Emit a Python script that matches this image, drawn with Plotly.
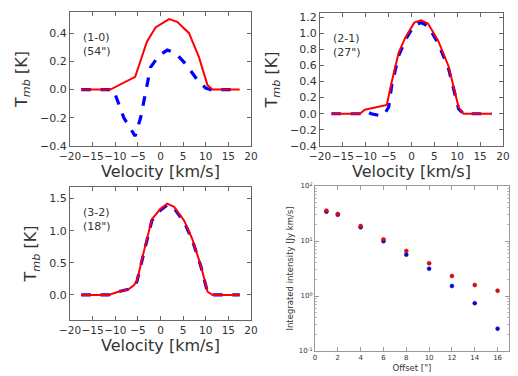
import plotly.graph_objects as go

# spectra: velocity [km/s] and T_mb [K]
v_10_red = [-17.5, -11.1, -5.6, -4.1, -3.0, -1.1, 1.9, 3.7, 6.3, 8.5, 10.4, 11.5, 17.5]
t_10_red = [0, 0, 0.09, 0.23, 0.34, 0.44, 0.50, 0.48, 0.40, 0.23, 0.03, 0, 0]
v_10_blue = [-17.5, -11.1, -10.4, -8.1, -5.6, -4.4, -3.3, -2.2, -0.4, 1.5, 3.3, 5.6, 8.1, 10.0, 11.1, 17.5]
t_10_blue = [0, 0, 0, -0.2, -0.33, -0.2, -0.03, 0.157, 0.24, 0.28, 0.26, 0.18, 0.07, 0.01, 0, 0]

v_21_red = [-17.5, -11.3, -10.2, -5.4, -4.3, -2.8, -1.3, 0.6, 2.1, 3.6, 5.8, 8.1, 10.3, 11.4, 17.5]
t_21_red = [0, 0, 0.05, 0.11, 0.40, 0.76, 0.95, 1.13, 1.16, 1.12, 0.91, 0.59, 0.08, 0, 0]
v_21_blue = [-17.5, -11.3, -9.9, -8.8, -7.2, -6.1, -5.0, -4.3, -2.8, -1.3, 0.6, 2.1, 3.6, 5.8, 8.1, 10.3, 11.4, 17.5]
t_21_blue = [0, 0, 0.03, 0.0, -0.02, -0.02, 0.08, 0.36, 0.72, 0.92, 1.10, 1.13, 1.09, 0.88, 0.56, 0.06, 0, 0]

v_32 = [-17.5, -11.5, -9.3, -7.0, -5.9, -5.2, -3.7, -1.9, 0, 1.5, 3.0, 5.2, 7.0, 8.9, 10.4, 11.5, 17.5]
t_32_red = [0, 0, 0.05, 0.09, 0.15, 0.22, 0.67, 1.18, 1.34, 1.42, 1.37, 1.16, 0.875, 0.46, 0.05, 0, 0]
t_32_blue = [0, 0, 0.05, 0.09, 0.14, 0.21, 0.65, 1.16, 1.32, 1.40, 1.35, 1.14, 0.86, 0.45, 0.04, 0, 0]

# integrated intensity vs offset
offset = [1, 2, 4, 6, 8, 10, 12, 14, 16]
intens_red = [35.6, 31.0, 18.7, 10.7, 6.6, 3.93, 2.31, 1.58, 1.25]
intens_blue = [34.1, 30.1, 17.7, 9.9, 5.65, 3.14, 1.52, 0.74, 0.255]

labels = ["(1-0)<br>(54\")", "(2-1)<br>(27\")", "(3-2)<br>(18\")"]
log_tickvals = [0.1, 1, 10, 100]
log_ticktext = ["10<sup>-1</sup>", "10<sup>0</sup>", "10<sup>1</sup>", "10<sup>2</sup>"]

W, H = 518, 376
TXT = "#333333"
FONT = "DejaVu Sans"


def px_x(p):
    return p / W


def px_y(p):
    return 1 - p / H


fig = go.Figure()

spectra = [
    (v_10_blue, t_10_blue, v_10_red, t_10_red),
    (v_21_blue, t_21_blue, v_21_red, t_21_red),
    (v_32, t_32_blue, v_32, t_32_red),
]
for i, (vb, tb, vr, tr) in enumerate(spectra):
    ax = "" if i == 0 else str(i + 1)
    fig.add_trace(go.Scatter(x=vb, y=tb, mode="lines", xaxis="x" + ax, yaxis="y" + ax,
                             line=dict(color="#0000ff", width=3.2, dash="dash"), showlegend=False))
    fig.add_trace(go.Scatter(x=vr, y=tr, mode="lines", xaxis="x" + ax, yaxis="y" + ax,
                             line=dict(color="#ff0000", width=2), showlegend=False))

fig.add_trace(go.Scatter(x=offset, y=intens_blue, mode="markers", xaxis="x4", yaxis="y4",
                         marker=dict(color="#0000ff", size=4, line=dict(color="#222266", width=0.5)),
                         showlegend=False))
fig.add_trace(go.Scatter(x=offset, y=intens_red, mode="markers", xaxis="x4", yaxis="y4",
                         marker=dict(color="#ff0000", size=4, line=dict(color="#662222", width=0.5)),
                         showlegend=False))

box = dict(showline=True, linecolor="#666666", linewidth=1, mirror="ticks", ticks="inside",
           ticklen=4, tickcolor="#666666", showgrid=False, zeroline=False, automargin=False)

# panel boxes in pixels: (x0, x1, ytop, ybottom)
boxes = [(70, 251, 12, 146), (320, 503, 13, 146), (70, 251, 187, 320)]
yranges = [[-0.4, 0.55], [-0.4, 1.25], [-0.39, 1.68]]
ydticks = [0.2, 0.2, 0.5]

layout = dict(width=W, height=H, margin=dict(l=0, r=0, t=0, b=0, autoexpand=False),
              paper_bgcolor="white", plot_bgcolor="white",
              font=dict(family=FONT, color=TXT))

for i, (x0, x1, yt, yb) in enumerate(boxes):
    ax = "" if i == 0 else str(i + 1)
    layout["xaxis" + ax] = dict(box, domain=[px_x(x0), px_x(x1)], range=[-20, 20], dtick=5,
                                anchor="y" + ax, tickfont=dict(size=10.5), tickangle=0,
                                title=dict(text="Velocity [km/s]", font=dict(size=16), standoff=4))
    layout["yaxis" + ax] = dict(box, domain=[px_y(yb), px_y(yt)], range=yranges[i], dtick=ydticks[i],
                                tick0=0, anchor="x" + ax, tickfont=dict(size=11), tickformat=".1f",
                                title=dict(text="T<sub><i>mb</i></sub> [K]", font=dict(size=16), standoff=8))

layout["xaxis4"] = dict(box, domain=[px_x(315), px_x(509)], range=[0, 17], dtick=2, anchor="y4",
                        tickfont=dict(size=7), tickangle=0, linecolor="#999999", tickcolor="#999999",
                        title=dict(text="Offset [\"]", font=dict(size=8.5), standoff=3))
layout["yaxis4"] = dict(box, domain=[px_y(351), px_y(186)], type="log", range=[-1, 2],
                        tickvals=log_tickvals, ticktext=log_ticktext, anchor="x4",
                        tickfont=dict(size=7), linecolor="#999999", tickcolor="#999999",
                        minor=dict(ticks="inside", ticklen=2, tickcolor="#bbbbbb", dtick="D1"),
                        title=dict(text="Integrated intensity [Jy km/s]", font=dict(size=8.5), standoff=3))

fig.update_layout(**layout)

# transition labels inside each spectrum panel
for i, (x0, x1, yt, yb) in enumerate(boxes):
    fig.add_annotation(x=px_x(x0 + 11), y=px_y(yt + 17), xref="paper", yref="paper",
                       xanchor="left", yanchor="top", align="left", text=labels[i],
                       showarrow=False, font=dict(size=11, color=TXT))

# drop the default page margin so the figure sits at the window's corner
fig.write_html("out.html", config={"displayModeBar": False},
               post_script="document.body.style.margin='0';")
